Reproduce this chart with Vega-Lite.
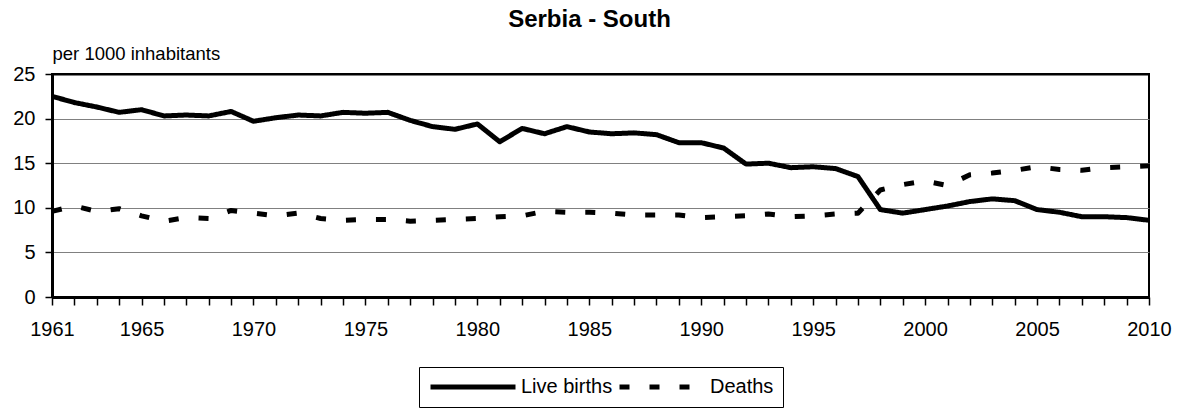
{
  "$schema": "https://vega.github.io/schema/vega-lite/v6.json",
  "autosize": "none",
  "width": 1097,
  "height": 223,
  "padding": {"left": 52, "top": 74, "right": 36, "bottom": 112},
  "background": "white",
  "title": {"text": "Serbia - South", "fontSize": 24, "fontWeight": "bold", "font": "Liberation Sans", "color": "black", "anchor": "middle", "frame": "group", "dx": -11, "offset": 12},
  "config": {
    "view": {"stroke": "black", "strokeWidth": 2},
    "font": "Liberation Sans"
  },
  "data": {"values": [
    {"year":1961,"series":"Live births","value":22.5},{"year":1962,"series":"Live births","value":21.8},{"year":1963,"series":"Live births","value":21.3},{"year":1964,"series":"Live births","value":20.7},{"year":1965,"series":"Live births","value":21.0},{"year":1966,"series":"Live births","value":20.3},{"year":1967,"series":"Live births","value":20.4},{"year":1968,"series":"Live births","value":20.3},{"year":1969,"series":"Live births","value":20.8},{"year":1970,"series":"Live births","value":19.7},
    {"year":1971,"series":"Live births","value":20.1},{"year":1972,"series":"Live births","value":20.4},{"year":1973,"series":"Live births","value":20.3},{"year":1974,"series":"Live births","value":20.7},{"year":1975,"series":"Live births","value":20.6},{"year":1976,"series":"Live births","value":20.7},{"year":1977,"series":"Live births","value":19.8},{"year":1978,"series":"Live births","value":19.1},{"year":1979,"series":"Live births","value":18.8},{"year":1980,"series":"Live births","value":19.4},
    {"year":1981,"series":"Live births","value":17.4},{"year":1982,"series":"Live births","value":18.9},{"year":1983,"series":"Live births","value":18.3},{"year":1984,"series":"Live births","value":19.1},{"year":1985,"series":"Live births","value":18.5},{"year":1986,"series":"Live births","value":18.3},{"year":1987,"series":"Live births","value":18.4},{"year":1988,"series":"Live births","value":18.2},{"year":1989,"series":"Live births","value":17.3},{"year":1990,"series":"Live births","value":17.3},
    {"year":1991,"series":"Live births","value":16.7},{"year":1992,"series":"Live births","value":14.9},{"year":1993,"series":"Live births","value":15.0},{"year":1994,"series":"Live births","value":14.5},{"year":1995,"series":"Live births","value":14.6},{"year":1996,"series":"Live births","value":14.4},{"year":1997,"series":"Live births","value":13.5},{"year":1998,"series":"Live births","value":9.8},{"year":1999,"series":"Live births","value":9.4},{"year":2000,"series":"Live births","value":9.8},
    {"year":2001,"series":"Live births","value":10.2},{"year":2002,"series":"Live births","value":10.7},{"year":2003,"series":"Live births","value":11.0},{"year":2004,"series":"Live births","value":10.8},{"year":2005,"series":"Live births","value":9.8},{"year":2006,"series":"Live births","value":9.5},{"year":2007,"series":"Live births","value":9.0},{"year":2008,"series":"Live births","value":9.0},{"year":2009,"series":"Live births","value":8.9},{"year":2010,"series":"Live births","value":8.6},
    {"year":1961,"series":"Deaths","value":9.6},{"year":1962,"series":"Deaths","value":10.2},{"year":1963,"series":"Deaths","value":9.6},{"year":1964,"series":"Deaths","value":9.9},{"year":1965,"series":"Deaths","value":9.1},{"year":1966,"series":"Deaths","value":8.5},{"year":1967,"series":"Deaths","value":8.9},{"year":1968,"series":"Deaths","value":8.8},{"year":1969,"series":"Deaths","value":9.7},{"year":1970,"series":"Deaths","value":9.4},
    {"year":1971,"series":"Deaths","value":9.1},{"year":1972,"series":"Deaths","value":9.4},{"year":1973,"series":"Deaths","value":8.8},{"year":1974,"series":"Deaths","value":8.6},{"year":1975,"series":"Deaths","value":8.7},{"year":1976,"series":"Deaths","value":8.7},{"year":1977,"series":"Deaths","value":8.5},{"year":1978,"series":"Deaths","value":8.6},{"year":1979,"series":"Deaths","value":8.7},{"year":1980,"series":"Deaths","value":8.8},
    {"year":1981,"series":"Deaths","value":9.0},{"year":1982,"series":"Deaths","value":9.1},{"year":1983,"series":"Deaths","value":9.6},{"year":1984,"series":"Deaths","value":9.5},{"year":1985,"series":"Deaths","value":9.5},{"year":1986,"series":"Deaths","value":9.4},{"year":1987,"series":"Deaths","value":9.2},{"year":1988,"series":"Deaths","value":9.2},{"year":1989,"series":"Deaths","value":9.2},{"year":1990,"series":"Deaths","value":8.9},
    {"year":1991,"series":"Deaths","value":9.0},{"year":1992,"series":"Deaths","value":9.1},{"year":1993,"series":"Deaths","value":9.3},{"year":1994,"series":"Deaths","value":9.0},{"year":1995,"series":"Deaths","value":9.1},{"year":1996,"series":"Deaths","value":9.3},{"year":1997,"series":"Deaths","value":9.4},{"year":1998,"series":"Deaths","value":12.0},{"year":1999,"series":"Deaths","value":12.6},{"year":2000,"series":"Deaths","value":13.0},
    {"year":2001,"series":"Deaths","value":12.5},{"year":2002,"series":"Deaths","value":13.7},{"year":2003,"series":"Deaths","value":13.9},{"year":2004,"series":"Deaths","value":14.2},{"year":2005,"series":"Deaths","value":14.6},{"year":2006,"series":"Deaths","value":14.3},{"year":2007,"series":"Deaths","value":14.2},{"year":2008,"series":"Deaths","value":14.5},{"year":2009,"series":"Deaths","value":14.6},{"year":2010,"series":"Deaths","value":14.7}
  ]},
  "mark": {"type": "line", "color": "black", "strokeWidth": 5, "strokeCap": "butt", "strokeJoin": "round"},
  "encoding": {
    "x": {
      "field": "year", "type": "quantitative",
      "scale": {"domain": [1961, 2010], "nice": false, "zero": false},
      "axis": {
        "title": null,
        "values": [1961,1962,1963,1964,1965,1966,1967,1968,1969,1970,1971,1972,1973,1974,1975,1976,1977,1978,1979,1980,1981,1982,1983,1984,1985,1986,1987,1988,1989,1990,1991,1992,1993,1994,1995,1996,1997,1998,1999,2000,2001,2002,2003,2004,2005,2006,2007,2008,2009,2010],
        "labelExpr": "(datum.value == 1961 || datum.value % 5 == 0) ? format(datum.value, 'd') : ''",
        "labelFontSize": 20, "labelFont": "Liberation Sans", "labelColor": "black",
        "labelPadding": 14, "labelOverlap": false, "labelFlush": false,
        "tickSize": 8, "tickColor": "black", "tickWidth": 1.5,
        "domainColor": "black", "domainWidth": 3,
        "grid": false
      }
    },
    "y": {
      "field": "value", "type": "quantitative",
      "scale": {"domain": [0, 25], "nice": false},
      "axis": {
        "values": [0, 5, 10, 15, 20, 25],
        "title": "per 1000 inhabitants",
        "titleAngle": 0, "titleAlign": "left", "titleBaseline": "alphabetic",
        "titleX": 0, "titleY": -15,
        "titleFontSize": 18.5, "titleFontWeight": "normal", "titleFont": "Liberation Sans", "titleColor": "black",
        "labelFontSize": 20, "labelFont": "Liberation Sans", "labelColor": "black", "labelPadding": 10,
        "tickSize": 7, "tickColor": "black", "tickWidth": 1.5,
        "domainColor": "black", "domainWidth": 3,
        "grid": true,
        "gridColor": {"condition": {"test": "datum.value == 25", "value": "black"}, "value": "#808080"},
        "gridWidth": {"condition": {"test": "datum.value == 25", "value": 2}, "value": 1.2}
      }
    },
    "strokeDash": {
      "field": "series", "type": "nominal",
      "scale": {"domain": ["Live births", "Deaths"], "range": [[1, 0], [10, 20]]},
      "legend": {
        "title": null,
        "orient": "none", "legendX": 367, "legendY": 293,
        "direction": "horizontal",
        "strokeColor": "black", "fillColor": "white",
        "padding": 9,
        "symbolType": "stroke", "symbolSize": 7225, "symbolStrokeWidth": 5, "symbolStrokeColor": "black",
        "clipHeight": 22,
        "labelFontSize": 20, "labelFont": "Liberation Sans", "labelColor": "black",
        "labelOffset": 3, "columnPadding": 4
      }
    }
  }
}
